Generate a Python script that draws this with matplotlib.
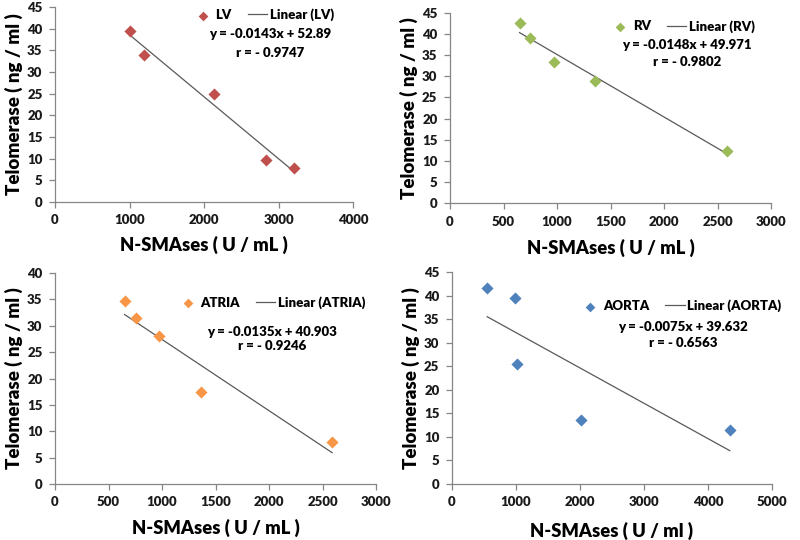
import matplotlib
matplotlib.use("Agg")
import matplotlib.pyplot as plt
import numpy as np

plt.rcParams['font.family'] = ['Lato', 'DejaVu Sans']
plt.rcParams['font.weight'] = 'bold'

# ---- data ----
lv_x = [1000, 1190, 2140, 2830, 3210]
lv_y = [39.5, 34.0, 25.0, 9.7, 7.8]
lv_fit = (-0.0143, 52.89)
lv_eq = ["y = -0.0143x + 52.89", "r = - 0.9747"]

rv_x = [650, 750, 970, 1355, 2590]
rv_y = [42.6, 39.0, 33.5, 29.0, 12.4]
rv_fit = (-0.0148, 49.971)
rv_eq = ["y = -0.0148x + 49.971", "r = - 0.9802"]

atria_x = [650, 760, 970, 1360, 2590]
atria_y = [34.7, 31.5, 28.0, 17.5, 8.0]
atria_fit = (-0.0135, 40.903)
atria_eq = ["y = -0.0135x + 40.903", "r = - 0.9246"]

aorta_x = [550, 990, 1010, 2010, 4340]
aorta_y = [41.5, 39.5, 25.5, 13.5, 11.5]
aorta_fit = (-0.0075, 39.632)
aorta_eq = ["y = -0.0075x + 39.632", "r = - 0.6563"]

panels = [
    dict(name="LV", x=lv_x, y=lv_y, fit=lv_fit, eq=lv_eq, color="#C0504D",
         xmax=4000, xstep=1000, ymax=45, xlabel="N-SMAses ( U / mL )",
         rect=[55, 7, 353, 202], leg=(0.70, 0.96), eqpos=(270, 34, 53), xlab_y=245),
    dict(name="RV", x=rv_x, y=rv_y, fit=rv_fit, eq=rv_eq, color="#9BBB59",
         xmax=3000, xstep=500, ymax=45, xlabel="N-SMAses ( U / mL )",
         rect=[450, 13, 771, 203], leg=(0.725, 0.93), eqpos=(687, 45, 62), xlab_y=248),
    dict(name="ATRIA", x=atria_x, y=atria_y, fit=atria_fit, eq=atria_eq, color="#F79646",
         xmax=3000, xstep=500, ymax=40, xlabel="N-SMAses ( U / mL )",
         rect=[55, 273, 376, 484], leg=(0.675, 0.86), eqpos=(272, 332, 346), xlab_y=528),
    dict(name="AORTA", x=aorta_x, y=aorta_y, fit=aorta_fit, eq=aorta_eq, color="#4F81BD",
         xmax=5000, xstep=1000, ymax=45, xlabel="N-SMAses ( U / ml )",
         rect=[452, 272, 772, 484], leg=(0.715, 0.84), eqpos=(683, 327, 343), xlab_y=531),
]

W, H = 800, 540
fig = plt.figure(figsize=(8, 5.4), dpi=100)

for p in panels:
    l, t, r, b = p["rect"]
    ax = fig.add_axes([l / W, 1 - b / H, (r - l) / W, (b - t) / H])
    ax.scatter(p["x"], p["y"], marker="D", s=38, color=p["color"], zorder=3,
               linewidths=0, label=p["name"])
    xs = np.array([min(p["x"]), max(p["x"])])
    m, c = p["fit"]
    ax.plot(xs, m * xs + c, color="#595959", lw=0.9, label="Linear (%s)" % p["name"])
    ax.set_xlim(0, p["xmax"])
    ax.set_ylim(0, p["ymax"])
    ax.set_xticks(np.arange(0, p["xmax"] + 1, p["xstep"]))
    ax.set_yticks(np.arange(0, p["ymax"] + 1, 5))
    for s in ["top", "right"]:
        ax.spines[s].set_visible(False)
    for s in ["left", "bottom"]:
        ax.spines[s].set_color("#868686")
        ax.spines[s].set_linewidth(0.9)
    ax.tick_params(axis="both", colors="#868686", labelcolor="#1a1a1a",
                   labelsize=9.5, length=4, width=0.9, direction="out", pad=5)
    for lab in ax.get_xticklabels() + ax.get_yticklabels():
        lab.set_fontweight("heavy")
    ax.set_ylabel("Telomerase ( ng / ml )", fontsize=13.5, fontweight="heavy", labelpad=3)
    fig.text(((l + r) / 2) / W, 1 - p["xlab_y"] / H, p["xlabel"], ha="center", va="center",
             fontsize=13.2, fontweight="heavy")
    leg = ax.legend(loc="center", bbox_to_anchor=p["leg"], ncol=2, frameon=False,
                    fontsize=9.5, handlelength=1.5, handletextpad=0.2, columnspacing=1.2,
                    scatterpoints=1, markerscale=0.8, prop={"weight": "heavy", "size": 9.5})
    ex, ey1, ey2 = p["eqpos"]
    fig.text(ex / W, 1 - ey1 / H, p["eq"][0], ha="center", va="center", fontsize=9.5,
             fontweight="heavy")
    fig.text(ex / W, 1 - ey2 / H, p["eq"][1], ha="center", va="center", fontsize=9.5,
             fontweight="heavy")

fig.savefig("out.png", dpi=100)
